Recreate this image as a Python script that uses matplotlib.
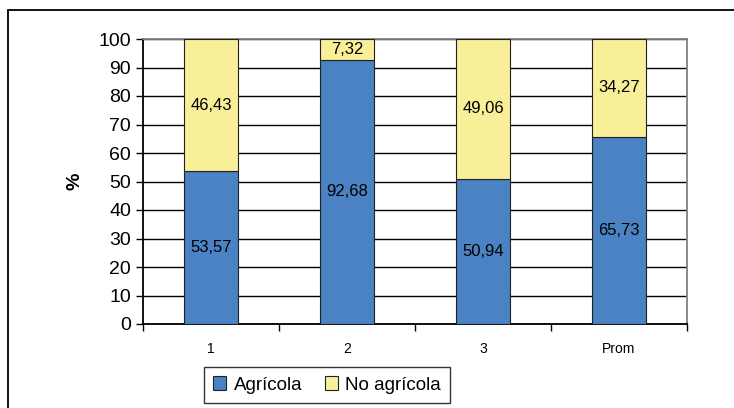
import matplotlib.pyplot as plt
import numpy as np

plt.rcParams['font.family'] = ['Liberation Sans', 'DejaVu Sans']

categories = ["1", "2", "3", "Prom"]
agricola = [53.57, 92.68, 50.94, 65.73]
no_agricola = [46.43, 7.32, 49.06, 34.27]

blue = "#4A82C3"
yellow = "#F9EF99"

fig = plt.figure(figsize=(7.34, 4.08), dpi=100)
# outer chart frame
fig.patches.append(plt.Rectangle((8 / 734, -0.1), 1.1, 1 - 10 / 408 + 0.1,
                                 transform=fig.transFigure, fill=False,
                                 edgecolor="black", linewidth=1.3))
ax = fig.add_axes([143 / 734, 1 - 324 / 408, 544 / 734, 285 / 408])

x = np.arange(len(categories))
b1 = ax.bar(x, agricola, width=0.4, color=blue, edgecolor="#222222", linewidth=0.8,
            label="Agrícola", zorder=3)
b2 = ax.bar(x, no_agricola, width=0.4, bottom=agricola, color=yellow,
            edgecolor="#222222", linewidth=0.8, label="No agrícola", zorder=3)

for i in range(len(categories)):
    ax.text(x[i], agricola[i] / 2, f"{agricola[i]:.2f}".replace(".", ","),
            ha="center", va="center", fontsize=12, zorder=4)
    ax.text(x[i], agricola[i] + no_agricola[i] / 2,
            f"{no_agricola[i]:.2f}".replace(".", ","),
            ha="center", va="center", fontsize=12, zorder=4)

ax.set_xlim(-0.5, len(categories) - 0.5)
ax.set_ylim(0, 100)
ax.set_yticks(np.arange(0, 101, 10))
ax.tick_params(axis="y", labelsize=14, length=5, width=1, direction="out")
ax.set_xticks(x)
ax.set_xticklabels(categories)
ax.set_xticks(np.arange(-0.5, len(categories)), minor=True)
ax.tick_params(axis="x", which="major", length=0, labelsize=10, pad=13)
ax.tick_params(axis="x", which="minor", length=5, width=1, direction="out")
ax.yaxis.grid(True, color="black", linewidth=1)
ax.set_axisbelow(True)

for side in ["top", "right"]:
    ax.spines[side].set_color("#808080")
    ax.spines[side].set_linewidth(1.3)
ax.spines["left"].set_linewidth(1.3)
ax.spines["bottom"].set_linewidth(1.3)

ax.set_ylabel("%", fontsize=14, fontweight="bold", labelpad=11)

leg = ax.legend(loc="center", bbox_to_anchor=(327 / 734, 1 - 385 / 408),
                bbox_transform=fig.transFigure, ncol=2, fontsize=13.5,
                frameon=True, fancybox=False, handlelength=0.7, handleheight=0.7,
                handletextpad=0.4, columnspacing=1.2, borderpad=0.5)
leg.get_frame().set_edgecolor("black")
leg.get_frame().set_linewidth(1)

fig.savefig("out.png", dpi=100)
